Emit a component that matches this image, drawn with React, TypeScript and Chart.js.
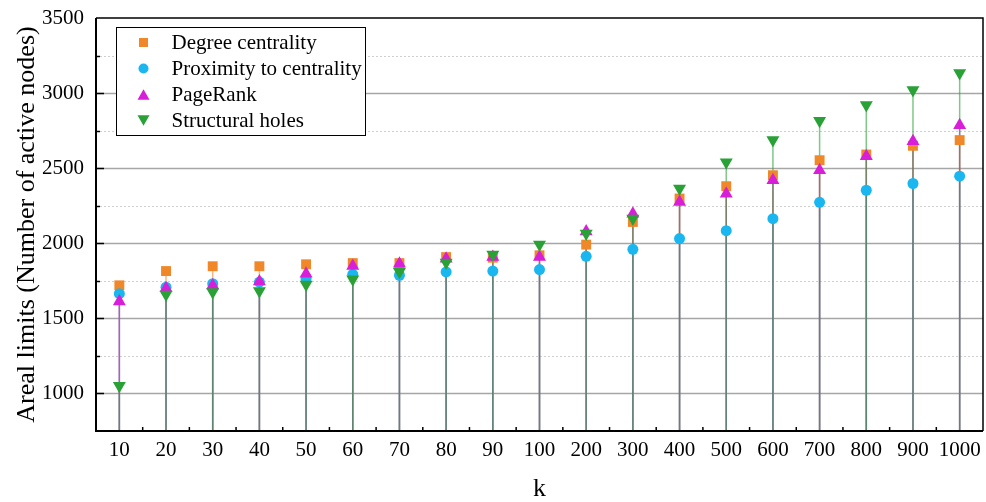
import React, { useEffect, useRef } from 'react';
import { Chart, registerables } from 'chart.js';

Chart.register(...registerables);

const FONT = '"Liberation Serif", "Times New Roman", serif';

const categories = ['10', '20', '30', '40', '50', '60', '70', '80', '90', '100', '200', '300', '400', '500', '600', '700', '800', '900', '1000'];

const degreeCentrality = [1720, 1815, 1847, 1847, 1860, 1868, 1868, 1908, 1904, 1920, 1991, 2142, 2298, 2380, 2453, 2553, 2591, 2649, 2687];
const proximityCentrality = [1664, 1708, 1731, 1742, 1764, 1793, 1787, 1809, 1815, 1825, 1913, 1960, 2031, 2084, 2164, 2273, 2353, 2398, 2447];
const pageRank = [1613, 1701, 1719, 1746, 1797, 1848, 1864, 1897, 1908, 1908, 2079, 2197, 2275, 2330, 2419, 2486, 2579, 2679, 2786];
const structuralHoles = [1051, 1659, 1676, 1683, 1725, 1761, 1810, 1872, 1925, 1992, 2065, 2165, 2365, 2539, 2688, 2816, 2921, 3021, 3134];

const seriesNames = ['Degree centrality', 'Proximity to centrality', 'PageRank', 'Structural holes'];
const seriesColors = ['#F0882A', '#1AB6F0', '#D91ED9', '#2AA137'];
const stemColors = ['rgba(240,136,42,0.6)', 'rgba(26,182,240,0.6)', 'rgba(217,30,217,0.6)', 'rgba(42,161,55,0.6)'];
const seriesStyles = ['rect', 'circle', 'triangle', 'triangleDown'];

const yMin = 750;
const yMax = 3500;
const yStep = 250;
const yMajor = 500;

const AXIS_LEFT = 96;
const PAD_RIGHT = 3;

function drawMarker(ctx: CanvasRenderingContext2D, style: string, x: number, y: number, size: number, color: string) {
  ctx.save();
  ctx.fillStyle = color;
  ctx.beginPath();
  if (style === 'rect') {
    ctx.rect(x - size / 2, y - size / 2, size, size);
  } else if (style === 'circle') {
    ctx.arc(x, y, size / 2, 0, Math.PI * 2);
  } else if (style === 'triangle') {
    const h = size * 0.87;
    ctx.moveTo(x, y - h / 2);
    ctx.lineTo(x + size / 2, y + h / 2);
    ctx.lineTo(x - size / 2, y + h / 2);
    ctx.closePath();
  } else {
    const h = size * 0.87;
    ctx.moveTo(x, y + h / 2);
    ctx.lineTo(x + size / 2, y - h / 2);
    ctx.lineTo(x - size / 2, y - h / 2);
    ctx.closePath();
  }
  ctx.fill();
  ctx.restore();
}

const decorPlugin = {
  id: 'decor',
  beforeDatasetsDraw(chart: any) {
    const { ctx, chartArea, scales } = chart;
    const y = scales.y;
    ctx.save();
    y.ticks.forEach((t: any) => {
      const v = t.value;
      if (v <= yMin || v >= yMax) return;
      const py = Math.round(y.getPixelForValue(v)) + 0.5;
      ctx.beginPath();
      if (v % yMajor === 0) {
        ctx.setLineDash([]);
        ctx.strokeStyle = '#a6a6a6';
        ctx.lineWidth = 1.3;
      } else {
        ctx.setLineDash([2, 2]);
        ctx.strokeStyle = '#cfcfcf';
        ctx.lineWidth = 1;
      }
      ctx.moveTo(chartArea.left, py);
      ctx.lineTo(chartArea.right, py);
      ctx.stroke();
    });
    ctx.setLineDash([]);
    chart.data.datasets.forEach((ds: any, i: number) => {
      const meta = chart.getDatasetMeta(i);
      ctx.strokeStyle = stemColors[i];
      ctx.lineWidth = 1.5;
      meta.data.forEach((pt: any) => {
        ctx.beginPath();
        ctx.moveTo(pt.x, chartArea.bottom);
        ctx.lineTo(pt.x, pt.y);
        ctx.stroke();
      });
    });
    ctx.restore();
  },
  afterDraw(chart: any) {
    const { ctx, chartArea, scales } = chart;
    const x = scales.x;
    const y = scales.y;
    ctx.save();
    ctx.strokeStyle = '#000';
    ctx.lineWidth = 1.5;
    y.ticks.forEach((t: any) => {
      const v = t.value;
      if (v <= yMin || v >= yMax) return;
      const py = Math.round(y.getPixelForValue(v)) + 0.5;
      const len = v % yMajor === 0 ? 8 : 4;
      ctx.beginPath();
      ctx.moveTo(chartArea.left, py);
      ctx.lineTo(chartArea.left + len, py);
      ctx.stroke();
    });
    for (let i = 0; i < categories.length - 1; i++) {
      const px = (x.getPixelForValue(i) + x.getPixelForValue(i + 1)) / 2;
      ctx.beginPath();
      ctx.moveTo(px, chartArea.bottom);
      ctx.lineTo(px, chartArea.bottom - 4);
      ctx.stroke();
    }
    ctx.lineWidth = 1.5;
    ctx.beginPath();
    ctx.moveTo(chartArea.left, chartArea.top);
    ctx.lineTo(chartArea.right, chartArea.top);
    ctx.lineTo(chartArea.right, chartArea.bottom);
    ctx.stroke();
    ctx.lineWidth = 2;
    ctx.beginPath();
    ctx.moveTo(chartArea.left, chartArea.top);
    ctx.lineTo(chartArea.left, chartArea.bottom);
    ctx.lineTo(chartArea.right, chartArea.bottom);
    ctx.stroke();

    const lx = chartArea.left + 20.5;
    const ly = chartArea.top + 9.5;
    const lw = 249;
    const lh = 108;
    ctx.fillStyle = '#fff';
    ctx.fillRect(lx, ly, lw, lh);
    ctx.lineWidth = 1;
    ctx.strokeStyle = '#000';
    ctx.strokeRect(lx, ly, lw, lh);
    ctx.font = `21px ${FONT}`;
    ctx.textBaseline = 'middle';
    ctx.textAlign = 'left';
    seriesNames.forEach((name, i) => {
      const cy = ly + 15 + i * 26;
      const size = seriesStyles[i] === 'rect' ? 9 : seriesStyles[i] === 'circle' ? 10 : 12;
      drawMarker(ctx, seriesStyles[i], lx + 27, cy, size, seriesColors[i]);
      ctx.fillStyle = '#000';
      ctx.fillText(name, lx + 55, cy + 1);
    });
    ctx.restore();
  },
};

function zeroPadding(s: any) {
  s.paddingTop = 0;
  s.paddingBottom = 0;
  s.paddingLeft = 0;
  s.paddingRight = 0;
}

export default function App() {
  const canvasRef = useRef<HTMLCanvasElement | null>(null);

  useEffect(() => {
    const canvas = canvasRef.current;
    if (!canvas) return;
    const allSeries = [degreeCentrality, proximityCentrality, pageRank, structuralHoles];
    const chart = new Chart(canvas, {
      type: 'line',
      data: {
        labels: categories,
        datasets: allSeries.map((vals, i) => ({
          label: seriesNames[i],
          data: vals,
          showLine: false,
          order: 4 - i,
          pointStyle: seriesStyles[i] === 'triangleDown' ? 'triangle' : seriesStyles[i],
          pointRotation: seriesStyles[i] === 'triangleDown' ? 180 : 0,
          pointRadius: seriesStyles[i] === 'rect' ? 7 : seriesStyles[i] === 'circle' ? 5.5 : 7.5,
          pointBackgroundColor: seriesColors[i],
          pointBorderColor: seriesColors[i],
          pointBorderWidth: 0,
          pointHoverRadius: 7,
        })),
      },
      options: {
        responsive: false,
        animation: false,
        devicePixelRatio: 1,
        layout: { autoPadding: false, padding: { top: 18, right: PAD_RIGHT, left: 0, bottom: 0 } },
        plugins: {
          legend: { display: false },
          tooltip: { enabled: false },
        },
        scales: {
          x: {
            type: 'category',
            offset: true,
            grid: { display: false, drawTicks: false },
            border: { display: false },
            ticks: {
              color: '#000',
              font: { family: FONT, size: 21 },
              padding: 7,
              maxRotation: 0,
              autoSkip: false,
            },
            title: {
              display: true,
              text: 'k',
              color: '#000',
              font: { family: FONT, size: 26, lineHeight: 1 },
              padding: { top: 0, bottom: 0 },
            },
            afterFit: (s: any) => {
              s.height = 71;
              zeroPadding(s);
            },
          },
          y: {
            min: yMin,
            max: yMax,
            grid: { display: false, drawTicks: false },
            border: { display: false },
            ticks: {
              stepSize: yStep,
              autoSkip: false,
              color: '#000',
              font: { family: FONT, size: 21 },
              padding: 12,
              callback: (v: any) => (Number(v) % yMajor === 0 ? String(v) : ''),
            },
            title: {
              display: true,
              text: 'Areal limits (Number of active nodes)',
              color: '#000',
              font: { family: FONT, size: 26, lineHeight: 1 },
              padding: { top: 14, bottom: 0 },
            },
            afterFit: (s: any) => {
              s.width = AXIS_LEFT;
              zeroPadding(s);
            },
          },
        },
      },
      plugins: [decorPlugin],
    });
    return () => chart.destroy();
  }, []);

  return (
    <div style={{ position: 'fixed', left: 0, top: 0, width: 986, height: 502, background: '#fff' }}>
      <canvas ref={canvasRef} width={986} height={502} style={{ display: 'block' }} />
    </div>
  );
}
